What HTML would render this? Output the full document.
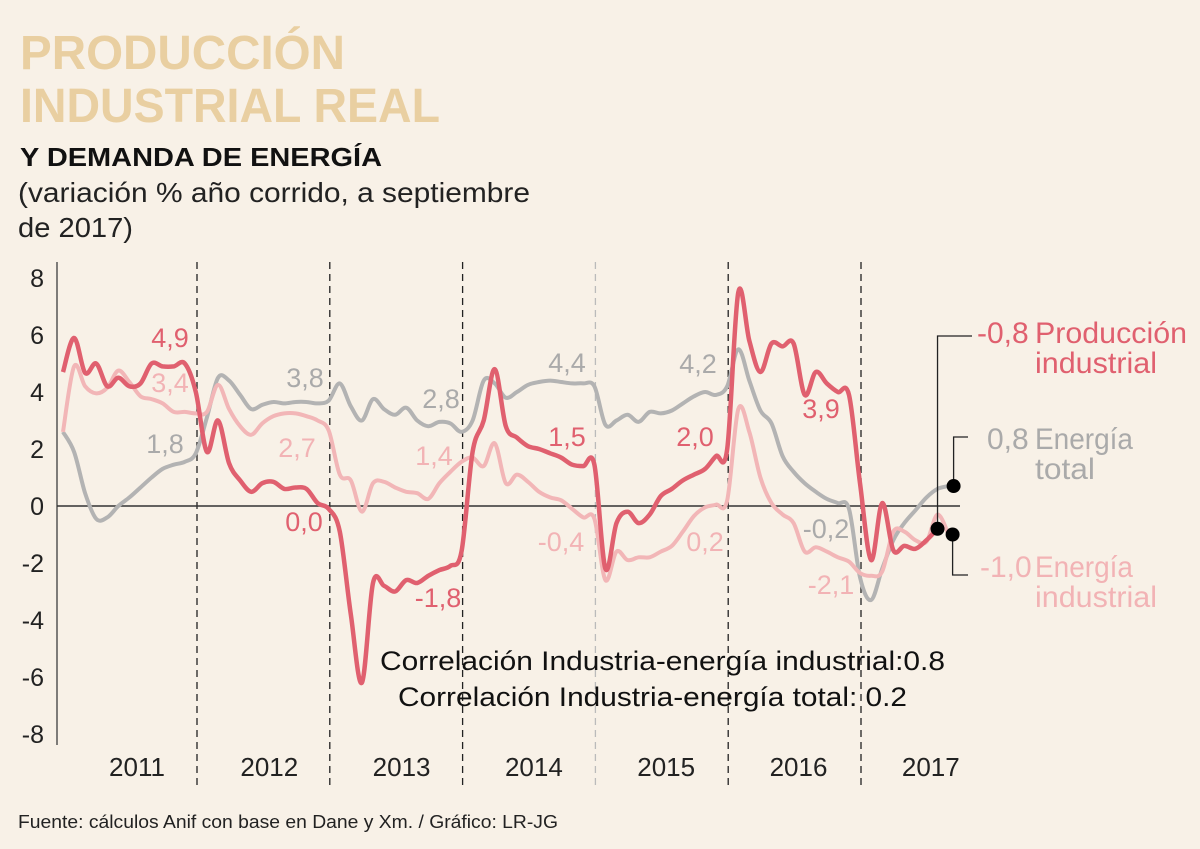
<!DOCTYPE html>
<html><head><meta charset="utf-8"><style>
html,body{margin:0;padding:0;background:#f8f1e7;}
svg{display:block;font-family:"Liberation Sans",sans-serif;}
</style></head><body>
<svg id="chart" width="1200" height="849" viewBox="0 0 1200 849">
<rect x="0" y="0" width="1200" height="849" fill="#f8f1e7"/>
<text x="20" y="69" font-size="48" font-weight="bold" fill="#e9cfa1" textLength="325" lengthAdjust="spacingAndGlyphs">PRODUCCIÓN</text>
<text x="20" y="122" font-size="48" font-weight="bold" fill="#e9cfa1" textLength="420" lengthAdjust="spacingAndGlyphs">INDUSTRIAL REAL</text>
<text x="20" y="166" font-size="26" font-weight="bold" fill="#111" textLength="362" lengthAdjust="spacingAndGlyphs">Y DEMANDA DE ENERGÍA</text>
<text x="18" y="202" font-size="28" fill="#222" textLength="512" lengthAdjust="spacingAndGlyphs">(variación % año corrido, a septiembre</text>
<text x="18" y="237" font-size="28" fill="#222" textLength="115" lengthAdjust="spacingAndGlyphs">de 2017)</text>
<g id="grid"></g>
<g id="series"></g>
<g id="labels"></g>
<text x="380" y="670" font-size="27" fill="#111" textLength="565" lengthAdjust="spacingAndGlyphs">Correlación Industria-energía industrial:0.8</text>
<text x="398" y="706" font-size="27" fill="#111" textLength="509" lengthAdjust="spacingAndGlyphs">Correlación Industria-energía total: 0.2</text>
<text x="18" y="828" font-size="18" fill="#222" textLength="540" lengthAdjust="spacingAndGlyphs">Fuente: cálculos Anif con base en Dane y Xm. / Gráfico: LR-JG</text>
<g fill="#e0606f" font-size="30">
<text x="977" y="343">-0,8</text><text x="1035" y="343" textLength="152" lengthAdjust="spacingAndGlyphs">Producción</text><text x="1035" y="373" textLength="122" lengthAdjust="spacingAndGlyphs">industrial</text></g>
<g fill="#aaaaaa" font-size="30">
<text x="987" y="449">0,8</text><text x="1035" y="449" textLength="98" lengthAdjust="spacingAndGlyphs">Energía</text><text x="1035" y="479" textLength="60" lengthAdjust="spacingAndGlyphs">total</text></g>
<g fill="#f2b3b5" font-size="30">
<text x="980" y="577">-1,0</text><text x="1035" y="577" textLength="98" lengthAdjust="spacingAndGlyphs">Energía</text><text x="1035" y="607" textLength="122" lengthAdjust="spacingAndGlyphs">industrial</text></g>
</svg>
<script>
const prod = [4.7,5.9,4.67,5.0,4.2,4.5,4.2,4.3,5.0,4.9,4.9,5.0,4.0,1.9,3.0,1.5,0.9,0.5,0.8,0.85,0.6,0.65,0.6,0.1,-0.1,-0.9,-3.8,-6.2,-2.7,-2.8,-3.0,-2.6,-2.7,-2.45,-2.25,-2.1,-1.6,1.9,3.0,4.8,2.8,2.4,2.1,2.0,1.85,1.7,1.45,1.4,1.45,-2.2,-0.6,-0.2,-0.6,-0.3,0.35,0.6,0.9,1.1,1.3,1.75,2.0,7.5,5.8,4.7,5.7,5.6,5.7,3.9,4.7,4.3,4.0,3.9,0.8,-1.9,0.1,-1.55,-1.4,-1.5,-1.2,-0.8];
const total = [2.6,1.9,0.45,-0.45,-0.4,0.0,0.3,0.65,1.0,1.3,1.45,1.55,1.85,3.1,4.5,4.4,3.9,3.4,3.55,3.65,3.6,3.65,3.65,3.6,3.7,4.3,3.5,3.0,3.75,3.4,3.2,3.45,3.0,2.8,2.95,2.9,2.6,3.0,4.4,4.3,3.8,4.0,4.25,4.35,4.4,4.35,4.3,4.3,4.2,2.85,3.0,3.2,2.95,3.3,3.25,3.35,3.6,3.85,4.0,3.9,4.2,5.5,4.4,3.35,2.9,1.75,1.2,0.8,0.5,0.25,0.1,-0.1,-2.5,-3.3,-2.2,-1.2,-0.6,-0.15,0.3,0.6,0.7];
const indus = [2.6,4.9,4.2,3.95,4.15,4.75,4.35,3.85,3.75,3.6,3.3,3.3,3.25,3.3,4.25,3.4,2.8,2.5,2.9,3.15,3.25,3.25,3.15,3.0,2.65,1.1,0.9,-0.2,0.8,0.85,0.65,0.5,0.45,0.25,0.8,1.2,1.55,1.7,1.4,2.2,0.8,1.1,0.85,0.5,0.3,0.2,-0.1,-0.4,-0.45,-2.6,-1.6,-1.9,-1.8,-1.8,-1.6,-1.4,-0.9,-0.35,-0.05,0.05,0.2,3.4,2.6,1.0,0.1,-0.3,-0.6,-1.6,-1.45,-1.6,-1.8,-1.95,-2.35,-2.45,-2.3,-0.9,-0.9,-1.2,-1.25,-0.3,-1.0];
const yTicks = [8,6,4,2,0,-2,-4,-6,-8];
const years = ["2011","2012","2013","2014","2015","2016","2017"];
const prodLabels = [[11,4.9,"4,9"],[23,0.0,"0,0"],[36,-1.8,"-1,8"],[44,1.5,"1,5"],[59,2.0,"2,0"],[67,3.9,"3,9"]];
const totalLabels = [[10,1.8,"1,8"],[23,3.8,"3,8"],[34,2.8,"2,8"],[45,4.4,"4,4"],[57,4.2,"4,2"],[69,-0.2,"-0,2"]];
const indusLabels = [[11,3.4,"3,4"],[21,2.7,"2,7"],[34,1.4,"1,4"],[45,-0.4,"-0,4"],[58,0.2,"0,2"],[69,-2.1,"-2,1"]];
const labelPos = {"4,9":[170,347],"0,0":[304,531],"-1,8":[438,607],"1,5":[567,446],"2,0":[695,446],"3,9":[821,418],
 "1,8":[165,453],"3,8":[305,387],"2,8":[441,408],"4,4":[567,372],"4,2":[698,373],"-0,2":[826,538],
 "3,4":[170,392],"2,7":[297,457],"1,4":[434,465],"-0,4":[561,551],"0,2":[705,551],"-2,1":[831,594]};
const NS="http://www.w3.org/2000/svg";
const X = i => 63 + i*11.07;
const Y = v => 506 - v*28.5;
function mk(tag, attrs, parent){const e=document.createElementNS(NS,tag);for(const k in attrs)e.setAttribute(k,attrs[k]);parent.appendChild(e);return e;}
const grid=document.getElementById('grid'), ser=document.getElementById('series'), lab=document.getElementById('labels');
const svg=document.getElementById('chart');
// y axis
let ax=mk('line',{x1:57,y1:262,x2:57,y2:745,stroke:'#555','stroke-width':1.5},grid);


yTicks.forEach(t=>{
  const tx=mk('text',{x:44,y:Y(t)+9,'font-size':25,fill:'#222','text-anchor':'end'},grid);
  tx.textContent=t;
  
  
});
// dividers
years.forEach((yr,k)=>{
  if(k>0){
    const dx=197+(k-1)*132.8;
    const dl=mk('line',{x1:dx,y1:262,x2:dx,y2:785,stroke:k==4?'#bbb':'#222','stroke-width':1.3,'stroke-dasharray':'7,5'},grid);
    
    
  }
  const yt=mk('text',{x:137+k*132.3,y:776,'font-size':26,fill:'#222','text-anchor':'middle'},grid);
  yt.textContent=yr;
  
  
});
let zl=mk('line',{x1:57,y1:Y(0),x2:960,y2:Y(0),stroke:'#333','stroke-width':1.5},grid);


function smooth(arr){
  const p=arr.map((v,i)=>[X(i),Y(v)]);
  let d=`M${p[0][0]},${p[0][1]}`;
  for(let i=0;i<p.length-1;i++){
    const p0=p[i-1]||p[i],p1=p[i],p2=p[i+1],p3=p[i+2]||p2;
    const c1=[p1[0]+(p2[0]-p0[0])/6,p1[1]+(p2[1]-p0[1])/6];
    const c2=[p2[0]-(p3[0]-p1[0])/6,p2[1]-(p3[1]-p1[1])/6];
    d+=` C${c1[0].toFixed(1)},${c1[1].toFixed(1)} ${c2[0].toFixed(1)},${c2[1].toFixed(1)} ${p2[0].toFixed(1)},${p2[1].toFixed(1)}`;
  }
  return d;
}
const l1=mk('path',{d:smooth(total),fill:'none',stroke:'#b3b3b3','stroke-width':4,'stroke-linejoin':'round'},ser);


const l2=mk('path',{d:smooth(indus),fill:'none',stroke:'#f2b6b7','stroke-width':4,'stroke-linejoin':'round'},ser);


const l3=mk('path',{d:smooth(prod),fill:'none',stroke:'#e0606f','stroke-width':4.5,'stroke-linejoin':'round'},ser);


// end markers and leaders
const pe=[X(prod.length-1),Y(prod[prod.length-1])];
const te=[X(total.length-1)+5,Y(total[total.length-1])];
const ie=[X(indus.length-1)+4,Y(indus[indus.length-1])];
const lead1=mk('polyline',{points:`${pe[0]},${pe[1]} ${pe[0]},336 972,336`,fill:'none',stroke:'#222','stroke-width':1.3},ser);


const lead2=mk('polyline',{points:`${te[0]},${te[1]} ${te[0]},437 968,437`,fill:'none',stroke:'#222','stroke-width':1.3},ser);


const lead3=mk('polyline',{points:`${ie[0]},${ie[1]} ${ie[0]},575 968,575`,fill:'none',stroke:'#222','stroke-width':1.3},ser);


[[pe,'end-dot-produccion'],[te,'end-dot-energia-total'],[ie,'end-dot-energia-industrial']].forEach(([p,n])=>{
  const c=mk('circle',{cx:p[0],cy:p[1],r:7,fill:'#000'},ser);
  
  
});
function addLabels(list,color){
  list.forEach(([i,v,s])=>{
    const pos=labelPos[s]||[X(i),Y(v)-12];
    const t=mk('text',{x:pos[0],y:pos[1],'font-size':27,fill:color,'text-anchor':'middle'},lab);
    t.textContent=s;
    
    
  });
}
addLabels(totalLabels,'#aaaaaa');
addLabels(indusLabels,'#f2b3b5');
addLabels(prodLabels,'#e0606f');
</script>
</body></html>
